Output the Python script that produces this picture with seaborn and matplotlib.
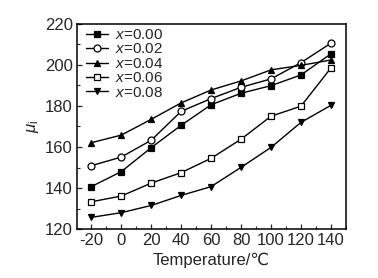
import matplotlib
matplotlib.use("Agg")
import matplotlib.pyplot as plt
import seaborn as sns
import pandas as pd
from matplotlib.ticker import MultipleLocator

temps = [-20, 0, 20, 40, 60, 80, 100, 120, 140]
mu_000 = [140.7, 148.0, 159.7, 170.6, 180.6, 186.2, 189.9, 195.1, 205.4]
mu_002 = [150.9, 155.1, 163.3, 177.4, 183.6, 189.1, 193.2, 201.1, 210.6]
mu_004 = [162.1, 165.8, 173.5, 181.5, 187.8, 192.2, 197.6, 199.8, 202.4]
mu_006 = [133.3, 136.1, 142.4, 147.5, 154.5, 163.8, 175.0, 179.9, 198.5]
mu_008 = [125.7, 128.0, 131.5, 136.4, 140.7, 150.1, 159.8, 172.0, 180.3]
labels = ["$x$=0.00", "$x$=0.02", "$x$=0.04", "$x$=0.06", "$x$=0.08"]

series = [mu_000, mu_002, mu_004, mu_006, mu_008]
rows = []
for lab, vals in zip(labels, series):
    for t, v in zip(temps, vals):
        rows.append({"T": t, "mu": v, "series": lab})
df = pd.DataFrame(rows)

sns.set_style("ticks")
plt.rcParams["font.family"] = ["Liberation Sans", "DejaVu Sans"]
plt.rcParams["mathtext.fontset"] = "custom"
plt.rcParams["mathtext.it"] = "Liberation Sans:italic"
plt.rcParams["mathtext.rm"] = "Liberation Sans"
plt.rcParams["axes.unicode_minus"] = False

fig = plt.figure(figsize=(3.78, 2.78), dpi=100)
ax = fig.add_axes([0.204, 0.176, 0.711, 0.738])

markers = ["s", "o", "^", "s", "v"]
fills = ["black", "white", "black", "white", "black"]
for lab, m, fc in zip(labels, markers, fills):
    sub = df[df["series"] == lab]
    sns.lineplot(data=sub, x="T", y="mu", ax=ax, color="black", lw=1.0,
                 marker=m, markersize=5, markerfacecolor=fc,
                 markeredgecolor="black", markeredgewidth=0.9, label=lab)

ax.set_xlim(-29.5, 150)
ax.set_ylim(120, 220)
ax.set_xticks(temps)
ax.set_yticks([120, 140, 160, 180, 200, 220])
ax.xaxis.set_minor_locator(MultipleLocator(10))
ax.yaxis.set_minor_locator(MultipleLocator(10))
ax.tick_params(which="both", direction="in", top=False, right=False, labelsize=12)
ax.tick_params(which="major", length=3.5, width=0.9, pad=3)
ax.tick_params(which="minor", length=2, width=0.8)
for s in ax.spines.values():
    s.set_linewidth(1.1)
    s.set_color("black")

ax.set_xlabel("Temperature/℃", fontsize=12, labelpad=3)
ax.set_ylabel(r"$\mu_{\mathrm{i}}$", fontsize=12, labelpad=3)

leg = ax.legend(loc="upper left", frameon=False, fontsize=11, handlelength=1.5,
                handletextpad=0.4, labelspacing=0.03, borderaxespad=0.0,
                borderpad=0.2, bbox_to_anchor=(0.02, 0.995))

fig.savefig("out.png", dpi=100)
